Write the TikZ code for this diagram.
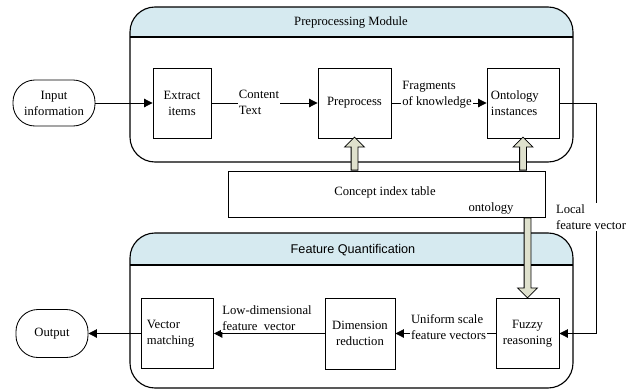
\documentclass[tikz,border=0pt]{standalone}
\usepackage{fontspec}
\setmainfont{Liberation Serif}
\newfontfamily\headsans{Liberation Sans}
\usepackage{tikz}
\usetikzlibrary{positioning,arrows.meta,shapes.arrows}
\definecolor{headblue}{RGB}{214,234,240}
\definecolor{fatfill}{RGB}{223,225,205}

\begin{document}
\begin{tikzpicture}
            [
            x=0.025cm, y=-0.025cm,
            every node/.style={font=\fontsize{9}{11.4}\selectfont},
            box/.style={draw,line width=0.6pt,minimum width=1.8cm,minimum height=1.75cm,align=center,inner sep=2pt},
            pill/.style={draw,line width=0.6pt,rounded corners=0.55cm,minimum height=1.15cm,align=center},
            lbl/.style={fill=white,align=left,inner sep=1pt},
            edge/.style={-{Triangle[length=6pt,width=6pt]},line width=0.6pt},
            fat/.style={single arrow,draw,fill=fatfill,line width=0.6pt,
              single arrow head extend=0.1625cm,inner xsep=0pt,inner ysep=0.075cm},
            module/.style={draw,line width=0.8pt,rounded corners=0.625cm}
            ]
        \useasboundingbox (0,0) rectangle (640,390);
        % preprocessing module
        \begin{scope}
          \clip[rounded corners=0.625cm] (130,7) rectangle (573,162);
          \fill[headblue] (130,7) rectangle (573,37);
        \end{scope}
        \draw[module] (130,7) rectangle (573,162);
        \draw[line width=0.8pt] (130,37) -- (573,37);
        \node (pm) at (351,22) {Preprocessing Module};
        % feature quantification
        \begin{scope}
          \clip[rounded corners=0.625cm] (130,233) rectangle (573,388);
          \fill[headblue] (130,233) rectangle (573,265);
        \end{scope}
        \draw[module] (130,233) rectangle (573,388);
        \draw[line width=0.8pt] (130,265) -- (573,265);
        \node[font=\headsans\fontsize{9}{11}\selectfont] (fq) at (353,250) {Feature Quantification};

        \node[pill,minimum width=2.05cm] (in) at (54,103) {Input\\information};
        \node[box,minimum width=1.45cm] (ext) at (182,103) {Extract\\items};
        \node[box,minimum width=1.825cm] (pre) at (354.5,103) {Preprocess};
        \node[box,text width=1.6cm,inner xsep=0.1cm,align=left] (ont) at (523,103) {Ontology\\instances};
        \node[draw,line width=0.6pt,minimum width=7.925cm,minimum height=1.15cm] (cit) at (386.5,194) {};
        \node (cittxt) at (385,192) {Concept index table};
        \node (onttxt) at (491,208) {ontology};

        \node[pill,minimum width=1.8cm,minimum height=1.2cm] (out) at (52,333.5) {Output};
        \node[box,text width=1.525cm,inner xsep=0.1cm,align=left] (vm) at (177.5,333.5) {Vector\\matching};
        \node[box,minimum width=1.75cm,minimum height=1.775cm] (dr) at (360,333.5) {Dimension\\reduction};
        \node[box,minimum width=1.575cm] (fz) at (527.5,333.5) {Fuzzy\\reasoning};

        \draw[edge] (in) -- (ext);
        \draw[edge] (ext) -- (pre);
        \draw[edge] (pre) -- (ont);
        \draw[edge] (ont.east) -- ++(37,0) |- (fz.east);
        \draw[edge] (fz) -- (dr);
        \draw[edge] (dr) -- (vm);
        \draw[edge] (vm) -- (out);

        \node[lbl] (ctl) at (259,102) {Content\\Text};
        \node[lbl] (fkl) at (437,95) {Fragments\\of knowledge};
        \node[lbl] (lfl) at (591,217) {Local\\feature vector};
        \node[lbl] (ldl) at (267,318.5) {Low-dimensional\\feature\ \ vector};
        \node[lbl] (usl) at (448.5,327) {Uniform scale\\feature vectors};

        \node[fat,rotate=90,minimum height=0.825cm,anchor=tail] (fa1) at (pre.south |- cit.north) {};
        \node[fat,rotate=90,minimum height=0.825cm,anchor=tail] (fa2) at (ont.south |- cit.north) {};
        \node[fat,rotate=-90,minimum height=2cm,anchor=tail] (fa3) at (fz.north |- cit.south) {};
        \end{tikzpicture}
\end{document}
